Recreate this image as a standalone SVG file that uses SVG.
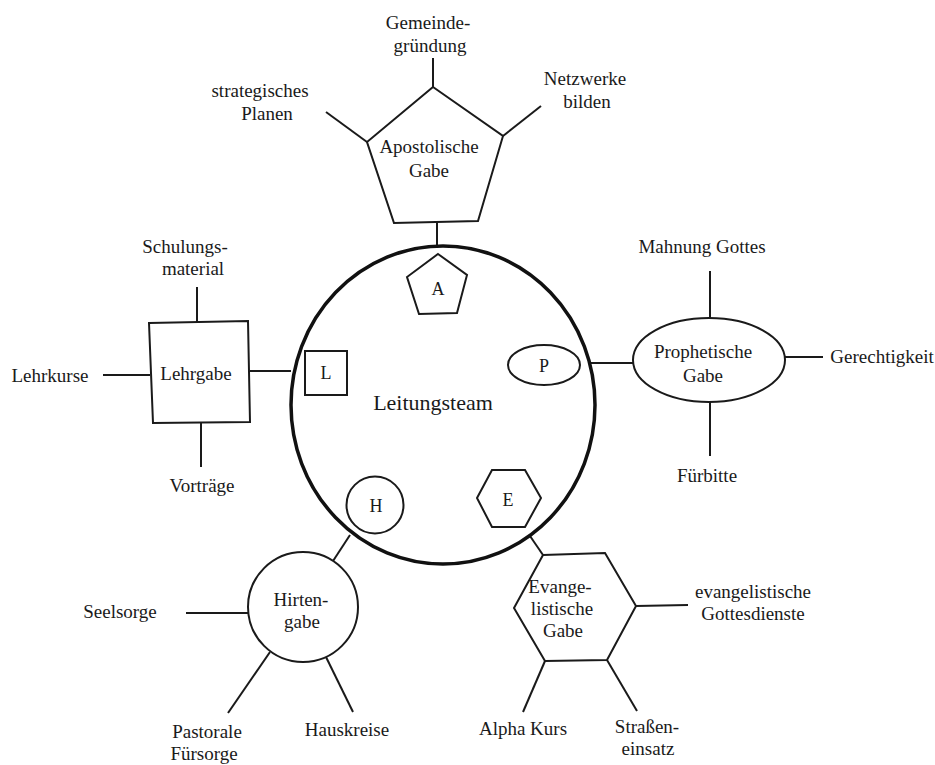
<svg xmlns="http://www.w3.org/2000/svg" width="935" height="765" viewBox="0 0 935 765">
<style>
.s{fill:none;stroke:#1a1a1a;stroke-width:2}
.n{fill:#fff;stroke:#1a1a1a;stroke-width:2}
.big{fill:#fff;stroke:#111;stroke-width:3.5}
text{font-family:"Liberation Serif","Times New Roman",serif;font-size:19px;fill:#1a1a1a;text-anchor:middle}
.t{font-size:22px}
.sm{font-size:18px}
</style>
<rect width="935" height="765" fill="#fff"/>
<g id="connectors" class="s">
<line x1="437" y1="222" x2="437" y2="246"/>
<line x1="433" y1="87" x2="433" y2="58"/>
<line x1="367" y1="142" x2="326" y2="112"/>
<line x1="503" y1="136" x2="541" y2="106"/>
<line x1="250" y1="371" x2="291" y2="371"/>
<line x1="197" y1="322" x2="197" y2="287"/>
<line x1="201" y1="423" x2="201" y2="467"/>
<line x1="150" y1="375" x2="103" y2="375"/>
<line x1="591" y1="363" x2="634" y2="363"/>
<line x1="710" y1="318" x2="710" y2="271"/>
<line x1="710" y1="402" x2="710" y2="456"/>
<line x1="784" y1="357" x2="823" y2="357"/>
<line x1="333" y1="561" x2="350" y2="535"/>
<line x1="248" y1="613" x2="186" y2="613"/>
<line x1="270" y1="652" x2="228" y2="713"/>
<line x1="326" y1="657" x2="353" y2="712"/>
<line x1="543" y1="555" x2="530" y2="536"/>
<line x1="636" y1="606" x2="688" y2="605"/>
<line x1="545" y1="661" x2="523" y2="712"/>
<line x1="607" y1="660" x2="637" y2="711"/>
</g>
<g id="leitungsteam">
<ellipse class="big" cx="443" cy="405" rx="152" ry="159"/>
<text class="t" x="433" y="410">Leitungsteam</text>
</g>
<g id="mini-A">
<polygon class="n" points="438,254 467,275 457,313 419,314 407,277"/>
<text class="sm" x="438" y="295">A</text>
</g>
<g id="mini-L">
<rect class="n" x="305" y="351" width="42" height="44"/>
<text class="sm" x="326" y="379">L</text>
</g>
<g id="mini-P">
<ellipse class="n" cx="544" cy="365" rx="36" ry="20"/>
<text class="sm" x="544" y="372">P</text>
</g>
<g id="mini-H">
<circle class="n" cx="375" cy="505" r="28.5"/>
<text class="sm" x="376" y="512">H</text>
</g>
<g id="mini-E">
<polygon class="n" points="477,498 492,470 525,470 541,498 525,527 492,527"/>
<text class="sm" x="508" y="506">E</text>
</g>
<g id="apostolische">
<polygon class="n" points="433,87 503,136 478,221 394,223 367,142"/>
<text x="429" y="153">Apostolische</text>
<text x="429" y="177">Gabe</text>
</g>
<g id="apo-labels">
<text x="428" y="29">Gemeinde-</text>
<text x="430" y="52">gründung</text>
<text x="260" y="97">strategisches</text>
<text x="267" y="120">Planen</text>
<text x="585" y="85">Netzwerke</text>
<text x="587" y="108">bilden</text>
</g>
<g id="lehrgabe">
<polygon class="n" points="149,323 248,321 250,422 153,423"/>
<text x="196" y="380">Lehrgabe</text>
</g>
<g id="lehr-labels">
<text x="185" y="253">Schulungs-</text>
<text x="193" y="275">material</text>
<text x="50" y="382">Lehrkurse</text>
<text x="202" y="492">Vorträge</text>
</g>
<g id="prophetische">
<ellipse class="n" cx="709" cy="360" rx="76" ry="42"/>
<text x="703" y="358">Prophetische</text>
<text x="703" y="382">Gabe</text>
</g>
<g id="proph-labels">
<text x="702" y="253">Mahnung Gottes</text>
<text x="882" y="363">Gerechtigkeit</text>
<text x="707" y="482">Fürbitte</text>
</g>
<g id="hirtengabe">
<circle class="n" cx="303" cy="607" r="55"/>
<text x="301" y="606">Hirten-</text>
<text x="302" y="628">gabe</text>
</g>
<g id="hirten-labels">
<text x="120" y="618">Seelsorge</text>
<text x="207" y="738">Pastorale</text>
<text x="204" y="760">Fürsorge</text>
<text x="347" y="736">Hauskreise</text>
</g>
<g id="evangelistische">
<polygon class="n" points="543,555 605,553 636,606 607,660 545,661 514,608"/>
<text x="560" y="593">Evange-</text>
<text x="562" y="615">listische</text>
<text x="563" y="637">Gabe</text>
</g>
<g id="evang-labels">
<text x="753" y="598">evangelistische</text>
<text x="753" y="620">Gottesdienste</text>
<text x="523" y="735">Alpha Kurs</text>
<text x="647" y="733">Straßen-</text>
<text x="648" y="755">einsatz</text>
</g>
</svg>
